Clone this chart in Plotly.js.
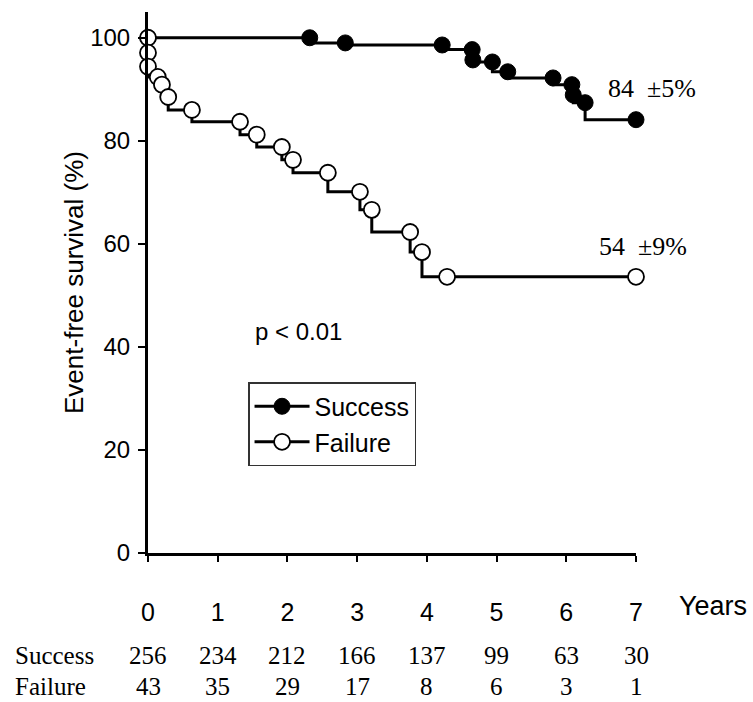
<!DOCTYPE html>
<html>
<head>
<meta charset="utf-8">
<script src="https://cdn.plot.ly/plotly-3.0.1.min.js"></script>
<style>html,body{margin:0;padding:0;background:#fff;}</style>
</head>
<body>
<div id="chart" style="width:753px;height:702px;"></div>
<script>
// Kaplan-Meier event-free survival (%) by year
const successYears = [0, 2.32, 2.83, 4.22, 4.65, 4.66, 4.94, 5.16, 5.81, 6.08, 6.10, 6.27, 7.0];
const successSurv  = [100, 100, 99.0, 98.6, 97.7, 95.7, 95.3, 93.4, 92.2, 90.9, 88.9, 87.4, 84.1];

const failureYears = [0, 0, 0, 0.14, 0.20, 0.29, 0.63, 1.32, 1.56, 1.92, 2.08, 2.58, 3.04, 3.21, 3.76, 3.93, 4.29, 7.0];
const failureSurv  = [100, 97.1, 94.4, 92.4, 90.9, 88.5, 86.0, 83.7, 81.2, 78.8, 76.3, 73.8, 70.1, 66.6, 62.3, 58.4, 53.6, 53.6];

// Numbers at risk
const riskYears   = [0, 1, 2, 3, 4, 5, 6, 7];
const riskSuccess = [256, 234, 212, 166, 137, 99, 63, 30];
const riskFailure = [43, 35, 29, 17, 8, 6, 3, 1];

// Tick values
const xTicks = [0, 1, 2, 3, 4, 5, 6, 7];
const yTicks = [0, 20, 40, 60, 80, 100];

const sans = 'Liberation Sans, Arial, sans-serif';
const serif = 'Liberation Serif, Times New Roman, serif';

const traces = [
  {
    name: 'Success', x: successYears, y: successSurv,
    type: 'scatter', mode: 'lines+markers', cliponaxis: false,
    line: {shape: 'vh', color: '#000', width: 3},
    marker: {symbol: 'circle', size: 16, color: '#000', line: {color: '#000', width: 1}}
  },
  {
    name: 'Failure', x: failureYears, y: failureSurv,
    type: 'scatter', mode: 'lines+markers', cliponaxis: false,
    line: {shape: 'vh', color: '#000', width: 3},
    marker: {symbol: 'circle', size: 16, color: '#fff', line: {color: '#000', width: 1.8}}
  }
];

const annotations = [
  {text: 'p < 0.01', x: 1.51, y: 42.9, xref: 'x', yref: 'y', xanchor: 'left', yanchor: 'middle', showarrow: false,
   font: {family: sans, size: 24, color: '#000'}},
  {text: '84  \u00B15%', x: 6.57, y: 90.2, xref: 'x', yref: 'y', xanchor: 'left', yanchor: 'middle', showarrow: false,
   font: {family: serif, size: 26, color: '#000'}},
  {text: '54  \u00B19%', x: 6.44, y: 59.4, xref: 'x', yref: 'y', xanchor: 'left', yanchor: 'middle', showarrow: false,
   font: {family: serif, size: 26, color: '#000'}},
  {text: 'Years', x: 1.084, y: -0.098, xref: 'paper', yref: 'paper', xanchor: 'left', yanchor: 'middle', showarrow: false,
   font: {family: sans, size: 27, color: '#000'}},
  {text: 'Success', x: -0.277, y: -0.190, xref: 'paper', yref: 'paper', xanchor: 'left', yanchor: 'middle', showarrow: false,
   font: {family: serif, size: 25, color: '#000'}},
  {text: 'Failure', x: -0.277, y: -0.246, xref: 'paper', yref: 'paper', xanchor: 'left', yanchor: 'middle', showarrow: false,
   font: {family: serif, size: 25, color: '#000'}}
];
riskYears.forEach((yr, i) => {
  annotations.push({text: String(riskSuccess[i]), x: yr, y: -0.190, xref: 'x', yref: 'paper', xanchor: 'center', yanchor: 'middle',
    showarrow: false, font: {family: serif, size: 25, color: '#000'}});
  annotations.push({text: String(riskFailure[i]), x: yr, y: -0.246, xref: 'x', yref: 'paper', xanchor: 'center', yanchor: 'middle',
    showarrow: false, font: {family: serif, size: 25, color: '#000'}});
});

const layout = {
  width: 753, height: 702,
  margin: {l: 148, r: 117, t: 12, b: 149},
  paper_bgcolor: '#fff', plot_bgcolor: '#fff',
  font: {family: sans, color: '#000'},
  showlegend: true,
  legend: {
    x: 0.205, y: 0.316, xanchor: 'left', yanchor: 'top',
    bgcolor: '#fff', bordercolor: '#333', borderwidth: 1.5,
    font: {family: sans, size: 25, color: '#000'},
    itemwidth: 55, entrywidth: 190, tracegroupgap: 0
  },
  xaxis: {
    range: [0, 7], tickvals: xTicks, ticktext: xTicks.map(String),
    showline: true, linecolor: '#000', linewidth: 3, mirror: false,
    ticks: 'outside', ticklen: 6, tickwidth: 2, tickcolor: '#000',
    ticklabelstandoff: 29,
    tickfont: {family: sans, size: 25, color: '#000'},
    showgrid: false, zeroline: false, fixedrange: true
  },
  yaxis: {
    range: [0, 105], tickvals: yTicks, ticktext: yTicks.map(String),
    showline: true, linecolor: '#000', linewidth: 3,
    ticks: 'outside', ticklen: 7, tickwidth: 2, tickcolor: '#000',
    ticklabelstandoff: 3,
    tickfont: {family: sans, size: 24, color: '#000'},
    title: {text: 'Event-free survival (%)', standoff: 0, font: {family: sans, size: 26, color: '#000'}},
    showgrid: false, zeroline: false, fixedrange: true
  },
  annotations: annotations
};

Plotly.newPlot('chart', traces, layout, {displayModeBar: false, staticPlot: true});
</script>
</body>
</html>
